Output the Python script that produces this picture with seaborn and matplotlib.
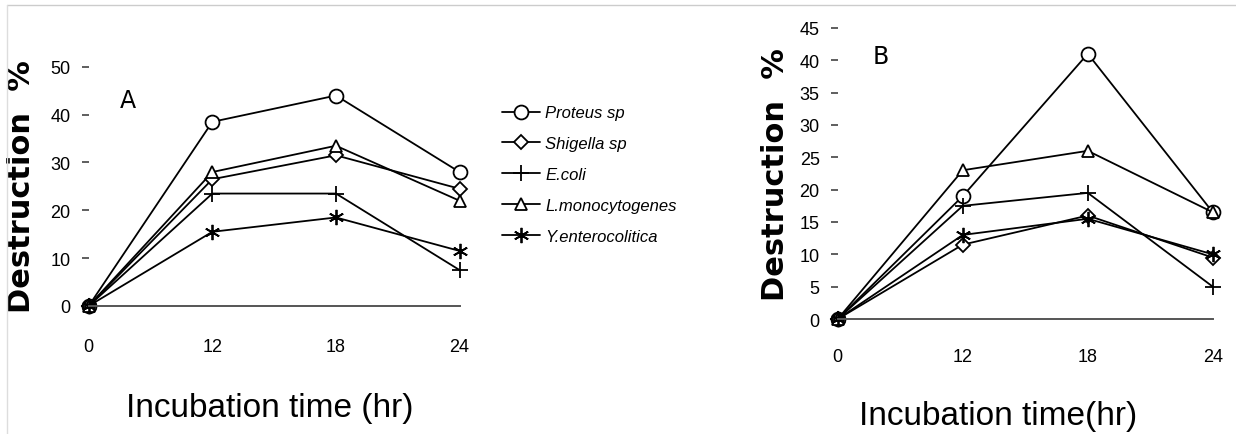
import numpy as np
import pandas as pd
import matplotlib.pyplot as plt
import seaborn as sns
from matplotlib.lines import Line2D

# ======= 1. data =======
HOURS = ['0', '12', '18', '24']
SPECIES = ['Proteus sp', 'Shigella sp', 'E.coli', 'L.monocytogenes', 'Y.enterocolitica']

A_PROTEUS = [0, 38.5, 44, 28]
A_SHIGELLA = [0, 26.5, 31.5, 24.5]
A_ECOLI = [0, 23.5, 23.5, 7.5]
A_LMONO = [0, 28, 33.5, 22]
A_YENTERO = [0, 15.5, 18.5, 11.5]

B_PROTEUS = [0, 19, 41, 16.5]
B_SHIGELLA = [0, 11.5, 16, 9.5]
B_ECOLI = [0, 17.5, 19.5, 5]
B_LMONO = [0, 23, 26, 16.5]
B_YENTERO = [0, 13, 15.5, 10]

# marker per species: open circle, diamond, plus, triangle, asterisk
MARKERS = ['o', 'D', '+', '^', (6, 2, 0)]
MSIZES = [10, 7, 12, 9, 11]

# ======= 2. style =======
sns.set_theme(style='white')
plt.rcParams['font.family'] = ['Liberation Sans', 'DejaVu Sans']
for key in ['text.color', 'axes.labelcolor', 'xtick.color', 'ytick.color']:
    plt.rcParams[key] = 'black'


def long_df(series):
    rows = []
    for name, vals in zip(SPECIES, series):
        for i, v in enumerate(vals):
            rows.append({'species': name, 'pos': i, 'hour': HOURS[i], 'value': v})
    return pd.DataFrame(rows)


df_a = long_df([A_PROTEUS, A_SHIGELLA, A_ECOLI, A_LMONO, A_YENTERO])
df_b = long_df([B_PROTEUS, B_SHIGELLA, B_ECOLI, B_LMONO, B_YENTERO])

fig = plt.figure(figsize=(12.36, 4.35), dpi=100)
ax_a = fig.add_axes([0.0718, 0.278, 0.305, 0.588])
ax_b = fig.add_axes([0.6778, 0.2494, 0.3085, 0.699])


def draw(ax, df, ylim, yticks, letter, letter_xy, xlabel, xlab_xy, tickpad):
    for name, mk, ms in zip(SPECIES, MARKERS, MSIZES):
        sub = df[df['species'] == name]
        sns.lineplot(data=sub, x='pos', y='value', ax=ax, color='black', lw=1.3,
                     marker=mk, markersize=ms, markerfacecolor='white',
                     markeredgecolor='black', markeredgewidth=1.3,
                     label=name, clip_on=False, legend=False)
    ax.set_xlim(0, 3.05)
    ax.set_ylim(*ylim)
    ax.set_xticks(range(len(HOURS)))
    ax.set_xticklabels(HOURS)
    ax.set_yticks(yticks)
    for s in ['top', 'right', 'left']:
        ax.spines[s].set_visible(False)
    ax.spines['bottom'].set_position(('data', 0))
    ax.spines['bottom'].set_bounds(0, 3)
    ax.spines['bottom'].set_color('#555555')
    ax.spines['bottom'].set_linewidth(1.4)
    ax.tick_params(axis='x', length=0, pad=tickpad, labelsize=13)
    ax.tick_params(axis='y', left=True, length=5, width=1.1, color='#333333',
                   direction='out', pad=8, labelsize=13)
    ax.set_ylabel('Destruction  %', family='DejaVu Sans', fontweight='bold', fontsize=22)
    ax.set_xlabel(xlabel, fontsize=24)
    ax.xaxis.set_label_coords(*xlab_xy)
    ax.text(letter_xy[0], letter_xy[1], letter, fontsize=17, family='DejaVu Sans',
            ha='center', va='center')


draw(ax_a, df_a, (-1.5, 52), range(0, 51, 10), 'A', (0.32, 43),
     'Incubation time (hr)', (0.48, -0.31), 23)
draw(ax_b, df_b, (-1, 46), range(0, 46, 5), 'B', (0.34, 40.6),
     'Incubation time(hr)', (0.42, -0.245), 21)
ax_a.yaxis.set_label_coords(-0.14, 0.5)
ax_b.yaxis.set_label_coords(-0.125, 0.5)

# legend between the two panels
handles, labels = ax_a.get_legend_handles_labels()
fig.legend(handles, labels, loc='upper left', bbox_to_anchor=(0.394, 0.79),
           frameon=False, handlelength=2.3, handletextpad=0.3, labelspacing=0.95,
           numpoints=1, prop={'style': 'italic', 'size': 12})

# thin scan border (top and left)
fig.add_artist(Line2D([0.006, 1.0], [0.987, 0.987], transform=fig.transFigure,
                      color='#cccccc', lw=1))
fig.add_artist(Line2D([0.006, 0.006], [0.0, 0.987], transform=fig.transFigure,
                      color='#dddddd', lw=1))

plt.savefig('out.png', dpi=100)
